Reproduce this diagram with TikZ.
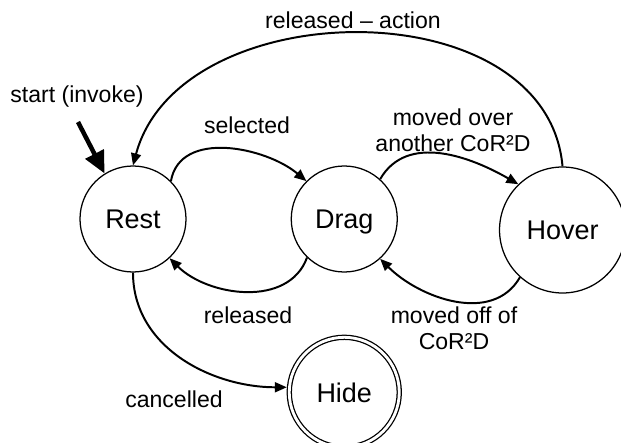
\documentclass[tikz,border=0pt]{standalone}
\usepackage{fontspec}
\setmainfont{Liberation Sans}
\usetikzlibrary{positioning,arrows.meta}
\tikzset{
	estado/.style={circle, draw=black, line width=0.9pt, minimum size=2.65cm,
		inner sep=0pt, text depth=0pt, font=\fontsize{19.2}{23}\selectfont},
	estadogrande/.style={estado, minimum size=3.15cm},
	estadofinal/.style={estado, double, double distance=2pt,
		minimum size=2.75cm, outer sep=1.9pt},
	etiqueta/.style={align=center, inner sep=0pt,
		font=\fontsize{16.4}{18.5}\selectfont},
	transicion/.style={line width=1.4pt, -{Triangle[length=0.3cm, width=0.25cm]}},
	entrada/.style={line width=3.2pt, -{Triangle[length=0.55cm, width=0.5cm]}}
}

\begin{document}
\begin{tikzpicture}[node distance=2.6cm]
	\path[use as bounding box, fill=white] (0,0) rectangle (15.525,11.05);
	
	\node[estado] (rest) at (3.325,5.575) {Rest};
	\node[estado, right=of rest] (drag) {Drag};
	\node[estadogrande, right=2.525cm of drag, yshift=-0.275cm] (hover) {Hover};
	\node[estadofinal, below=1.55cm of drag] (hide) {Hide};
	
	\coordinate (inicio) at (1.95,8.0);
	\node[etiqueta] (lstart) at (1.925,8.625) {start (invoke)};
	\node[etiqueta] (laction) at (8.825,10.55) {released – action};
	\node[etiqueta] (lselected) at (6.175,7.925) {selected};
	\node[etiqueta] (lover) at (11.325,7.8) {moved over\\another CoR²D};
	\node[etiqueta] (lreleased) at (6.2,3.175) {released};
	\node[etiqueta] (loff) at (11.35,2.85) {moved off of\\CoR²D};
	\node[etiqueta] (lcancel) at (4.35,1.075) {cancelled};
	
	\draw[entrada] (inicio) -- (rest.122);
	\draw[transicion] (rest.45) to[out=80,in=140] (drag.135);
	\draw[transicion] (drag.48) to[out=60,in=150] (hover.134);
	\draw[transicion] (drag.226) to[out=-110,in=-45] (rest.-47);
	\draw[transicion] (hover.228) to[out=-120,in=-45] (drag.-48);
	\draw[transicion] (hover.90) to[out=95,in=75,looseness=1.07] (rest.90);
	\draw[transicion] (rest.south) to[out=-90,in=180] (hide.175);
\end{tikzpicture}
\end{document}
